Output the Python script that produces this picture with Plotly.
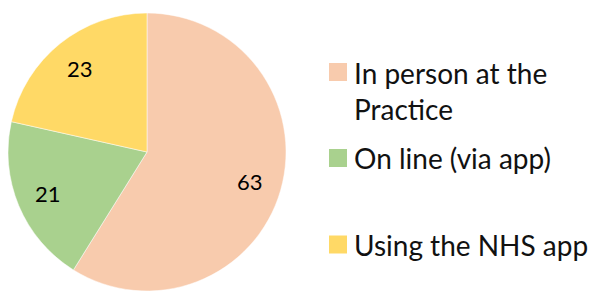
import math
import plotly.graph_objects as go

labels = ["In person at the<br>Practice", "On line (via app)", "Using the NHS app"]
values = [63, 21, 23]
colors = ["#F8CBAD", "#A9D18E", "#FFD966"]

W, H = 597, 291
# pie placement (pixels)
CX, CY, R = 147, 152, 139
dom_x = [(CX - R) / W, (CX + R) / W]
dom_y = [max(0, (H - CY - R) / H), min(1, (H - CY + R) / H)]

fig = go.Figure(go.Pie(
    labels=labels,
    values=values,
    sort=False,
    direction="clockwise",
    rotation=0,
    marker=dict(colors=colors, line=dict(color="white", width=0.5)),
    textinfo="none",
    domain=dict(x=dom_x, y=dom_y),
    hoverinfo="label+value",
    showlegend=False,
))

# value labels placed along each slice's mid angle
total = sum(values)
cum = 0
ann = []
for v in values:
    mid = (cum + v / 2) / total * 2 * math.pi
    cum += v
    r = 0.77 * R
    px = CX + r * math.sin(mid)
    py = CY - r * math.cos(mid)
    ann.append(dict(
        x=px / W, y=1 - py / H, xref="paper", yref="paper",
        text=str(v), showarrow=False, xanchor="center", yanchor="middle",
        font=dict(family="Lato", size=22, color="black"),
    ))

# legend (swatch + label)
leg_rows = [72, 158, 244.5]   # vertical centres of first text line
shapes = []
for i, (lab, col) in enumerate(zip(labels, colors)):
    yc = leg_rows[i]
    shapes.append(dict(
        type="rect", xref="paper", yref="paper",
        x0=329 / W, x1=347 / W, y0=1 - (yc + 9) / H, y1=1 - (yc - 9) / H,
        fillcolor=col, line=dict(width=0),
    ))
    nlines = lab.count("<br>") + 1
    lh = 38.5
    ymid = yc + (nlines - 1) * lh / 2
    ann.append(dict(
        x=352 / W, y=1 - ymid / H, xref="paper", yref="paper",
        text=lab, showarrow=False, xanchor="left", yanchor="middle",
        align="left",
        font=dict(family="Lato", size=28, color="#111111"),
    ))

fig.update_layout(
    width=W, height=H,
    margin=dict(l=0, r=0, t=0, b=0),
    paper_bgcolor="white",
    annotations=ann,
    shapes=shapes,
)

fig.write_html("out.html", config={"displayModeBar": False},
               post_script="document.body.style.margin='0';")
